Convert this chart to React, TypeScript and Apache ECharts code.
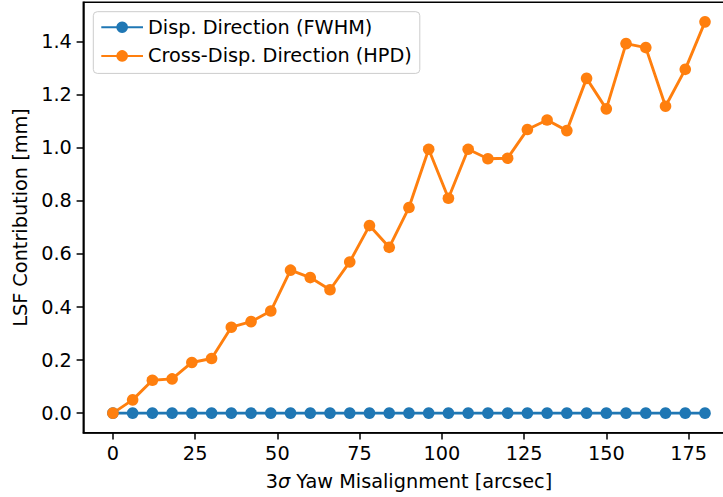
import React, { useEffect, useRef } from "react";
import * as echarts from "echarts";

const xValues = [0, 6, 12, 18, 24, 30, 36, 42, 48, 54, 60, 66, 72, 78, 84, 90, 96, 102, 108, 114, 120, 126, 132, 138, 144, 150, 156, 162, 168, 174, 180];
const fwhmValues = [0, 0, 0, 0, 0, 0, 0, 0, 0, 0, 0, 0, 0, 0, 0, 0, 0, 0, 0, 0, 0, 0, 0, 0, 0, 0, 0, 0, 0, 0, 0];
const hpdValues = [0, 0.05, 0.124, 0.129, 0.191, 0.206, 0.324, 0.345, 0.385, 0.539, 0.511, 0.465, 0.57, 0.707, 0.625, 0.775, 0.995, 0.81, 0.995, 0.959, 0.961, 1.069, 1.105, 1.065, 1.262, 1.147, 1.393, 1.378, 1.157, 1.296, 1.475];
const xTicks = [0, 25, 50, 75, 100, 125, 150, 175];
const yTicks = [0, 0.2, 0.4, 0.6, 0.8, 1.0, 1.2, 1.4];
const seriesNames = ["Disp. Direction (FWHM)", "Cross-Disp. Direction (HPD)"];

const FONT = "DejaVu Sans";
const FS = 19.3;

export default function App() {
  const ref = useRef<HTMLDivElement>(null);
  useEffect(() => {
    if (!ref.current) return;
    const chart = echarts.init(ref.current, undefined, { renderer: "svg" });
    const axisCommon = {
      axisLine: { show: true, onZero: false, lineStyle: { color: "#000", width: 1.5 } },
      axisTick: { show: true, length: 6.7, lineStyle: { color: "#000", width: 1.5 } },
      splitLine: { show: false },
    };
    chart.setOption({
      animation: false,
      backgroundColor: "#fff",
      textStyle: { fontFamily: FONT },
      grid: {
        left: 83.3,
        right: -11.6,
        top: 2.3,
        bottom: 64.3,
        show: true,
        borderColor: "#000",
        borderWidth: 1.5,
        backgroundColor: "transparent",
        containLabel: false,
        outerBoundsMode: "none",
      },
      legend: {
        data: seriesNames,
        orient: "vertical",
        align: "left",
        left: 93.3,
        top: 11.7,
        itemWidth: 41.7,
        itemHeight: 14.5,
        itemGap: 9.7,
        itemTextGap: 15,
        padding: [6, 8, 8, 7],
        backgroundColor: "#fff",
        borderColor: "#cccccc",
        borderWidth: 1,
        borderRadius: 4,
        textStyle: { fontFamily: FONT, fontSize: FS, color: "#000" },
      },
      xAxis: {
        type: "value",
        min: -9,
        max: 189,
        ...axisCommon,
        axisTick: { ...axisCommon.axisTick, customValues: xTicks },
        axisLabel: {
          customValues: xTicks,
          margin: 11,
          color: "#000",
          fontFamily: FONT,
          fontSize: FS,
        },
        name: "3{i|σ} Yaw Misalignment [arcsec]",
        nameLocation: "middle",
        nameGap: 39,
        nameTextStyle: {
          color: "#000",
          fontFamily: FONT,
          fontSize: FS,
          rich: { i: { fontStyle: "italic", fontFamily: FONT, fontSize: FS, color: "#000" } },
        },
      },
      yAxis: {
        type: "value",
        min: -0.07375,
        max: 1.54875,
        ...axisCommon,
        axisTick: { ...axisCommon.axisTick, customValues: yTicks },
        axisLabel: {
          customValues: yTicks,
          margin: 11.5,
          color: "#000",
          fontFamily: FONT,
          fontSize: FS,
          formatter: (v: number) => v.toFixed(1),
        },
        name: "LSF Contribution [mm]",
        nameLocation: "middle",
        nameGap: 50,
        nameTextStyle: { color: "#000", fontFamily: FONT, fontSize: FS },
      },
      series: [
        {
          name: seriesNames[0],
          type: "line",
          data: xValues.map((x, i) => [x, fwhmValues[i]]),
          symbol: "circle",
          symbolSize: 11.6,
          showSymbol: true,
          lineStyle: { color: "#1f77b4", width: 2.9 },
          itemStyle: { color: "#1f77b4", borderWidth: 0 },
          emphasis: { disabled: true },
        },
        {
          name: seriesNames[1],
          type: "line",
          data: xValues.map((x, i) => [x, hpdValues[i]]),
          symbol: "circle",
          symbolSize: 11.6,
          showSymbol: true,
          lineStyle: { color: "#ff7f0e", width: 2.9 },
          itemStyle: { color: "#ff7f0e", borderWidth: 0 },
          emphasis: { disabled: true },
        },
      ],
    });
    return () => chart.dispose();
  }, []);
  return (
    <div
      ref={ref}
      style={{ position: "fixed", left: 0, top: 0, width: 723, height: 497, background: "#fff" }}
    />
  );
}
